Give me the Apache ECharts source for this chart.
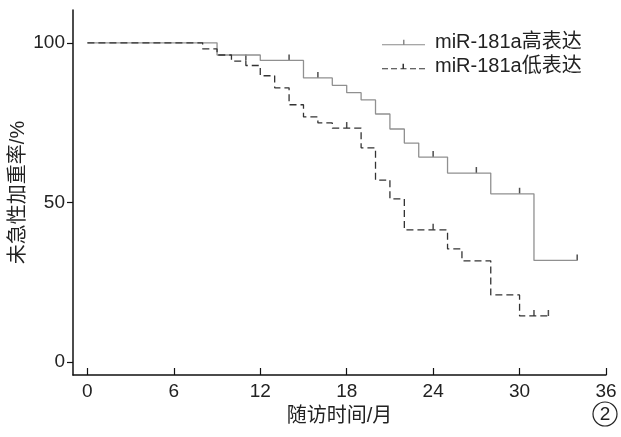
<!DOCTYPE html>
<html><head><meta charset="utf-8">
<script src="https://cdn.jsdelivr.net/npm/echarts@6/dist/echarts.min.js"></script>
<style>html,body{margin:0;padding:0;background:#fff}#c{width:621px;height:437px}</style>
</head><body><div id="c"></div>
<script>
const highTimes = [0, 9, 12, 15, 17, 18, 19, 20, 21, 22, 23, 25, 28, 31, 34];
const highSurv  = [100, 96.2, 94.5, 89, 86.7, 84.4, 82.1, 77.7, 73, 68.6, 64.2, 59.2, 52.7, 31.8, 31.8];
const highCensorTimes = [11, 14, 16, 24, 27, 30, 34];
const highCensorSurv  = [94.5, 94.5, 89, 64.2, 59.2, 52.7, 31.8];
const lowTimes = [0, 8, 9, 10, 11, 12, 13, 14, 15, 16, 17, 19, 20, 21, 22, 25, 26, 28, 30, 32];
const lowSurv  = [100, 98.1, 96.2, 94.3, 92.9, 89.7, 85.9, 80.6, 76.8, 74.9, 73.3, 67.1, 57, 51.1, 41.4, 35.4, 31.7, 21, 14.4, 14.4];
const lowCensorTimes = [18, 24, 31, 32];
const lowCensorSurv  = [73.3, 41.4, 14.4, 14.4];
const xTicks = [0, 6, 12, 18, 24, 30, 36];
const yTicks = [0, 50, 100];
const seriesNames = ['miR-181a高表达', 'miR-181a低表达'];

const zip = (a, b) => a.map((v, i) => [v, b[i]]);
const font = '"Liberation Sans", Arial, "Noto Sans CJK SC", sans-serif';
const chart = echarts.init(document.getElementById('c'), null, {renderer: 'canvas'});
const solidIcon = 'path://M0,6h43v1h-43z M21,1.5h1.5v5h-1.5z';
const dashIcon = 'path://M0,6h6v1h-6z M9,6h6v1h-6z M18.5,6h6v1h-6z M28,6h6v1h-6z M37,6h6v1h-6z M20.5,1.5h1.5v5h-1.5z';
chart.setOption({
  animation: false,
  backgroundColor: '#fff',
  grid: {left: 73, right: 15, top: 10, bottom: 62},
  legend: {
    orient: 'vertical', left: 377, top: 27, itemWidth: 43, itemHeight: 8, itemGap: 3,
    textStyle: {fontSize: 20, lineHeight: 21, color: '#222', fontFamily: font, padding: [0, 0, 0, 5]},
    data: [
      {name: seriesNames[0], icon: solidIcon, itemStyle: {color: '#8a8a8a'}},
      {name: seriesNames[1], icon: dashIcon, itemStyle: {color: '#333'}}
    ]
  },
  xAxis: {
    type: 'value', min: -1, max: 36,
    name: '随访时间/月', nameLocation: 'middle', nameGap: 31, nameMoveOverlap: false,
    nameTextStyle: {fontSize: 20, color: '#222', fontFamily: font},
    axisLine: {onZero: false, lineStyle: {color: '#111', width: 1.5}},
    axisTick: {inside: true, length: 7, lineStyle: {color: '#111', width: 1.2}, customValues: xTicks},
    axisLabel: {fontSize: 19, color: '#222', fontFamily: font, margin: 7, customValues: xTicks},
    splitLine: {show: false}
  },
  yAxis: {
    type: 'value', min: -4.1, max: 110.3,
    name: '未急性加重率/%', nameLocation: 'middle', nameGap: 45, nameMoveOverlap: false,
    nameTextStyle: {fontSize: 20, color: '#222', fontFamily: font},
    axisLine: {show: true, onZero: false, lineStyle: {color: '#111', width: 1.5}},
    axisTick: {show: true, length: 6, lineStyle: {color: '#111', width: 1.2}, customValues: yTicks},
    axisLabel: {fontSize: 19, color: '#222', fontFamily: font, margin: 8, customValues: yTicks},
    splitLine: {show: false}
  },
  series: [
    {name: seriesNames[0], type: 'line', step: 'end', data: zip(highTimes, highSurv), showSymbol: false,
     lineStyle: {color: '#909090', width: 1.3}, itemStyle: {color: '#909090'}},
    {name: seriesNames[1], type: 'line', step: 'end', data: zip(lowTimes, lowSurv), showSymbol: false,
     lineStyle: {color: '#333', width: 1.3, type: [7, 4]}, itemStyle: {color: '#333'}},
    {name: seriesNames[0], type: 'scatter', data: zip(highCensorTimes, highCensorSurv), symbol: 'rect',
     symbolSize: [1.5, 6], symbolOffset: [0, -3], itemStyle: {color: '#222'}},
    {name: seriesNames[1], type: 'scatter', data: zip(lowCensorTimes, lowCensorSurv), symbol: 'rect',
     symbolSize: [1.5, 6], symbolOffset: [0, -3], itemStyle: {color: '#222'}}
  ],
  graphic: [
    {type: 'circle', shape: {cx: 605, cy: 414, r: 12}, style: {fill: 'none', stroke: '#222', lineWidth: 1.2}},
    {type: 'text', x: 605, y: 415, style: {text: '2', fontSize: 19, fontFamily: font, fill: '#222', align: 'center', verticalAlign: 'middle'}}
  ]
});
</script></body></html>
